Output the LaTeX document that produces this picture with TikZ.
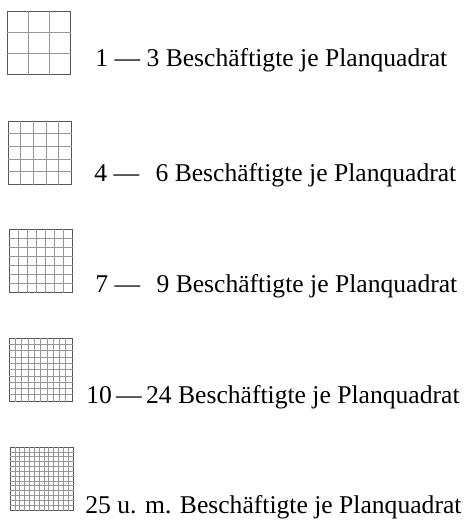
\documentclass[tikz,border=0pt]{standalone}
\usepackage{fontspec}
\setmainfont{Liberation Serif}
\usetikzlibrary{positioning}
\definecolor{rastergray}{RGB}{85,85,85}
\definecolor{gridgray}{RGB}{150,150,150}

\begin{document}
\begin{tikzpicture}[x=0.5pt,y=-0.5pt,
  rasterbox/.style={draw=rastergray,line width=0.55pt,minimum size=31.5pt,inner sep=0pt,anchor=north west},
  gridline/.style={draw=gridgray,line width=0.3pt},
  legendtext/.style={anchor=base west,inner sep=0pt,font=\fontsize{12.8}{15}\selectfont}]
\useasboundingbox (0,0) rectangle (465,520);
% Raster je Stufe: Kaestchen, Zahl der Felder, Beschriftung
\foreach \n/\bx/\by/\cells/\tx/\ty/\txt in {
    1/7/11/3/95/66/{1 --- 3 Beschäftigte je Planquadrat},
    2/8/121/5/94/181/{4 --- \hspace{5pt}6 Beschäftigte je Planquadrat},
    3/9/229/7/95/292/{7 --- \hspace{5pt}9 Beschäftigte je Planquadrat},
    4/9/338/10/86/403/{10\,---\,24 Beschäftigte je Planquadrat},
    5/10/447/13/85/513/{25 u. m. Beschäftigte je Planquadrat}}{
  \node[rasterbox] (raster\n) at (\bx,\by) {};
  \pgfmathtruncatemacro\last{\cells-1}
  \foreach \i in {1,...,\last}{
    \draw[gridline] ([xshift=\i*31.5pt/\cells]raster\n.north west) -- ([xshift=\i*31.5pt/\cells]raster\n.south west);
    \draw[gridline] ([yshift=-\i*31.5pt/\cells]raster\n.north west) -- ([yshift=-\i*31.5pt/\cells]raster\n.north east);
  }
  \node[legendtext] (legende\n) at (\tx,\ty) {\txt};
}
\end{tikzpicture}
\end{document}
